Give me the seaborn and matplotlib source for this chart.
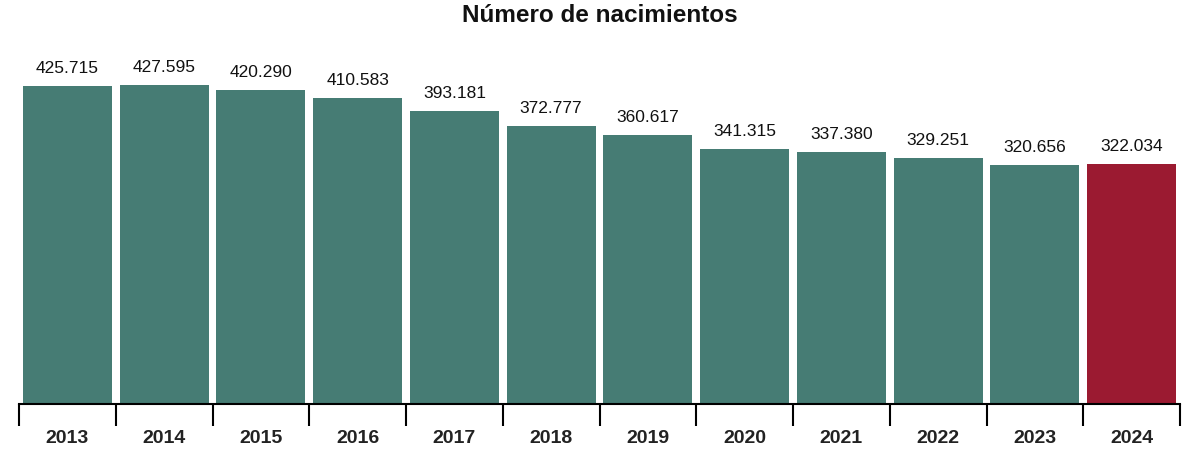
import matplotlib
matplotlib.use("Agg")
import matplotlib.pyplot as plt
import seaborn as sns
import numpy as np

years = ["2013", "2014", "2015", "2016", "2017", "2018", "2019", "2020", "2021", "2022", "2023", "2024"]
births = [425715, 427595, 420290, 410583, 393181, 372777, 360617, 341315, 337380, 329251, 320656, 322034]
labels = ["425.715", "427.595", "420.290", "410.583", "393.181", "372.777", "360.617", "341.315", "337.380", "329.251", "320.656", "322.034"]
title = "Número de nacimientos"

teal = "#467c74"
red = "#9b1a31"
colors = [teal] * (len(years) - 1) + [red]

sns.set_style("white")
plt.rcParams['font.family'] = ['Liberation Sans', 'DejaVu Sans']

fig = plt.figure(figsize=(12, 4.52), dpi=100)
ax = fig.add_axes([19/1200, 47/452, (1180-19)/1200, (405-50)/452])

sns.barplot(x=years, y=births, hue=years, palette=colors, width=0.92,
            saturation=1, legend=False, ax=ax, edgecolor="none")

ax.set_ylim(0, 427595 * (405 - 50) / 319)
ax.set_xlim(-0.5, len(years) - 0.5)

for i, (v, lab) in enumerate(zip(births, labels)):
    ax.annotate(lab, (i, v), xytext=(0, 8), textcoords="offset points",
                ha="center", va="bottom", fontsize=12.5, color="#111111")

for s in ["top", "right", "left"]:
    ax.spines[s].set_visible(False)
ax.spines["bottom"].set_linewidth(1.5)
ax.spines["bottom"].set_color("black")
ax.set_yticks([])

ax.set_xticks(np.arange(-0.5, len(years), 1.0))
ax.set_xticklabels([])
ax.set_xticks(np.arange(len(years)), minor=True)
ax.set_xticklabels(years, minor=True, fontsize=14, fontweight="bold", color="#222222")
ax.tick_params(axis="x", which="major", bottom=True, length=16, width=1.5, color="black", direction="out")
ax.tick_params(axis="x", which="minor", bottom=True, length=0, pad=18)
ax.set_xlabel("")
ax.set_ylabel("")

fig.text(0.5, 1 - 16/452, title, ha="center", va="center", fontsize=17.5, fontweight="bold", color="#111111")

fig.savefig("out.png", dpi=100, facecolor="white")
